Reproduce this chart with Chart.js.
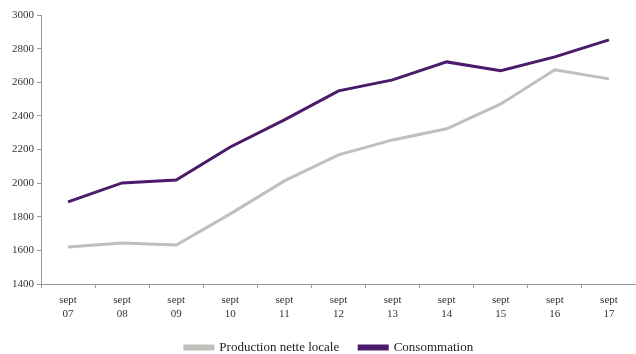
<!DOCTYPE html>
<html>
<head>
<meta charset="utf-8">
<script src="https://cdn.jsdelivr.net/npm/chart.js@4"></script>
<style>
  html, body { margin: 0; padding: 0; background: #fff; }
  #wrap { width: 636px; height: 354px; position: relative; }
</style>
</head>
<body>
<div id="wrap"><canvas id="c"></canvas></div>
<script>
// Category labels (two-line: month / year)
const categories = [
  ["sept", "07"], ["sept", "08"], ["sept", "09"], ["sept", "10"], ["sept", "11"],
  ["sept", "12"], ["sept", "13"], ["sept", "14"], ["sept", "15"], ["sept", "16"], ["sept", "17"]
];
const productionNetteLocale = [1620, 1644, 1632, 1817, 2013, 2168, 2257, 2323, 2471, 2674, 2620];
const consommation = [1888, 2001, 2019, 2215, 2376, 2549, 2614, 2721, 2668, 2751, 2852];

const seriesNames = ["Production nette locale", "Consommation"];
const yMin = 1400, yMax = 3000, yStep = 200;

const serif = "'Liberation Serif', 'DejaVu Serif', serif";
Chart.defaults.font.family = serif;
Chart.defaults.font.size = 11;
Chart.defaults.color = "#333";

// Nudges the legend box after layout.
const legendOffset = {
  id: "legendOffset",
  afterLayout(chart, args, opts) {
    const l = chart.legend;
    if (!l) return;
    l.top += opts.dy; l.bottom += opts.dy;
    l.left += opts.dx; l.right += opts.dx;
  }
};

new Chart(document.getElementById("c"), {
  type: "line",
  data: {
    labels: categories,
    datasets: [
      {
        label: seriesNames[0],
        data: productionNetteLocale,
        borderColor: "#c0bfba",
        backgroundColor: "#c0bfba",
        borderWidth: 3,
        pointRadius: 0,
        tension: 0
      },
      {
        label: seriesNames[1],
        data: consommation,
        borderColor: "#4b1a6b",
        backgroundColor: "#4b1a6b",
        borderWidth: 3,
        pointRadius: 0,
        tension: 0
      }
    ]
  },
  plugins: [legendOffset],
  options: {
    responsive: true,
    maintainAspectRatio: false,
    animation: false,
    layout: { padding: { left: 0, right: 0, top: 15, bottom: -13 } },
    plugins: {
      tooltip: { enabled: false },
      legendOffset: { dx: 11, dy: -3 },
      legend: {
        position: "bottom",
        labels: {
          boxWidth: 28,
          boxHeight: 3,
          padding: 20,
          font: { family: serif, size: 13 },
          color: "#222"
        }
      }
    },
    scales: {
      x: {
        offset: true,
        afterFit: (axis) => { axis.height = 40; },
        grid: {
          offset: true,
          drawOnChartArea: false,
          drawTicks: true,
          tickLength: 4,
          color: "#999"
        },
        border: { color: "#999", width: 1 },
        ticks: {
          maxRotation: 0,
          autoSkip: false,
          padding: 5,
          font: { family: serif, size: 11, lineHeight: 1.3 },
          color: "#333"
        }
      },
      y: {
        min: yMin,
        max: yMax,
        afterFit: (axis) => { axis.width = 41; },
        grid: {
          drawOnChartArea: false,
          drawTicks: true,
          tickLength: 4,
          color: "#999"
        },
        border: { color: "#999", width: 1 },
        ticks: {
          stepSize: yStep,
          padding: 3,
          callback: (v) => String(v),
          font: { family: serif, size: 11 },
          color: "#333"
        }
      }
    }
  }
});
</script>
</body>
</html>
